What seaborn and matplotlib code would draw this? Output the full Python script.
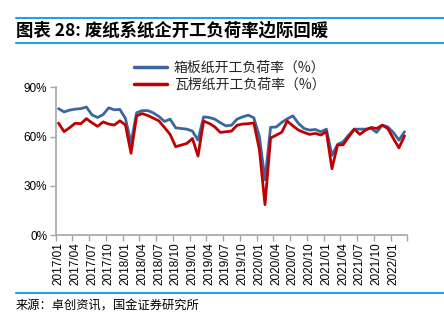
import numpy as np
import pandas as pd
import matplotlib
matplotlib.use("Agg")
import matplotlib.pyplot as plt
from matplotlib.lines import Line2D
from matplotlib.ticker import FixedLocator, PercentFormatter
import seaborn as sns

# ---- data (monthly, 2017/01 .. 2022/03) ----
months = [f"{y}/{m:02d}" for y in range(2017, 2023) for m in range(1, 13)][:63]

boxboard = [77.0, 75.0, 76.1, 76.7, 77.0, 78.0, 73.2, 71.6, 73.4, 77.5, 76.3, 76.5,
            71.0, 56.0, 74.5, 75.8, 75.8, 74.4, 72.2, 69.2, 70.6, 65.3, 64.9, 64.5,
            63.3, 57.8, 72.0, 71.6, 70.6, 68.4, 66.5, 66.9, 70.6, 72.0, 73.0, 71.4,
            60.0, 33.6, 65.6, 65.8, 68.6, 70.8, 72.6, 68.0, 64.9, 63.9, 64.3, 62.9,
            64.5, 48.5, 55.2, 56.8, 60.9, 64.5, 64.5, 64.5, 65.0, 62.5, 66.9, 65.9,
            62.5, 57.8, 62.9]
corrugated = [68.2, 63.0, 65.4, 68.1, 67.8, 70.9, 68.4, 66.2, 68.9, 67.6, 67.0, 69.6,
              67.0, 49.8, 72.6, 74.0, 72.8, 71.2, 69.5, 65.5, 61.3, 53.8, 54.8, 55.8,
              58.8, 48.1, 69.4, 68.0, 65.9, 62.5, 62.9, 63.3, 66.9, 67.6, 67.8, 68.3,
              52.0, 18.5, 59.1, 60.8, 62.6, 69.4, 66.5, 63.9, 62.5, 61.3, 61.9, 60.9,
              62.9, 40.4, 54.8, 55.0, 59.8, 64.5, 61.3, 63.9, 65.5, 64.9, 66.9, 64.9,
              58.8, 53.1, 60.4]
series_names = ["箱板纸开工负荷率（%）", "瓦楞纸开工负荷率（%）"]
series_colors = ["#3A67A0", "#C00000"]
y_ticks = [0, 30, 60, 90]

title = "图表 28: 废纸系纸企开工负荷率边际回暖"
source = "来源：卓创资讯，国金证券研究所"

# ---- build table ----
n = len(months)
df = pd.DataFrame({
    "idx": list(range(n)) * 2,
    "value": boxboard + corrugated,
    "series": [series_names[0]] * n + [series_names[1]] * n,
})

sns.set_theme(style="white")
plt.rcParams["font.family"] = ["Liberation Sans", "Noto Sans CJK SC", "DejaVu Sans"]
plt.rcParams["axes.unicode_minus"] = False

W, H = 444, 326
fig = plt.figure(figsize=(W / 100, H / 100), dpi=100)
ax = fig.add_axes([55.7 / W, 1 - 235 / H, (407.3 - 55.7) / W, (235 - 87.3) / H])

sns.lineplot(data=df, x="idx", y="value", hue="series", hue_order=series_names,
             palette=series_colors, linewidth=2.0, ax=ax, legend=True)

ax.set_xlim(-0.5, n - 0.5)
ax.set_ylim(0, 90)
ax.set_xlabel("")
ax.set_ylabel("")

# spines
for s in ["top", "right"]:
    ax.spines[s].set_visible(False)
for s in ["left", "bottom"]:
    ax.spines[s].set_color("#A6A6A6")
    ax.spines[s].set_linewidth(1.2)

# y ticks
ax.yaxis.set_major_locator(FixedLocator(y_ticks))
ax.yaxis.set_major_formatter(PercentFormatter(decimals=0))
ax.tick_params(axis="y", which="major", length=4, width=1, color="#A6A6A6",
               direction="out", labelsize=8.5, labelcolor="black", pad=2, left=True)

# x ticks: labels every 3 months, tick marks at category boundaries
label_pos = list(range(0, n, 3))[:21]
ax.set_xticks(label_pos)
ax.set_xticklabels([months[i] for i in label_pos], rotation=90,
                   fontfamily=["Liberation Sans"], fontsize=8.5)
ax.tick_params(axis="x", which="major", length=0, pad=5, labelcolor="black")
ax.set_xticks([p - 0.5 for p in range(0, n + 1, 3)], minor=True)
ax.tick_params(axis="x", which="minor", length=4, width=1, color="#A6A6A6",
               direction="out", bottom=True)

# legend
handles = [Line2D([0], [0], color=c, lw=2.5) for c in series_colors]
ax.legend(handles, series_names, loc="upper center",
          bbox_to_anchor=(229.5 / W, 1 - 48.5 / H), bbox_transform=fig.transFigure,
          frameon=False, ncol=1, handlelength=2.4, handletextpad=0.5,
          labelspacing=0.2, prop={"family": ["Noto Sans CJK SC"], "size": 10})

# decorative rules and texts
rule_color = "#1FA3E0"
for yy in (18, 43, 293):
    fig.add_artist(Line2D([16 / W, 1], [1 - yy / H, 1 - yy / H],
                          color=rule_color, lw=1.5, transform=fig.transFigure))

fig.text(16 / W, 1 - 30.5 / H, title, ha="left", va="center", fontsize=12.5,
         fontweight="bold", fontstyle="italic",
         family=["Noto Sans CJK SC", "DejaVu Sans"], color="black")
fig.text(16 / W, 1 - 306 / H, source, ha="left", va="center", fontsize=8.8,
         family=["Noto Sans CJK SC", "DejaVu Sans"], color="black")

fig.savefig("out.png", dpi=100, facecolor="white")
